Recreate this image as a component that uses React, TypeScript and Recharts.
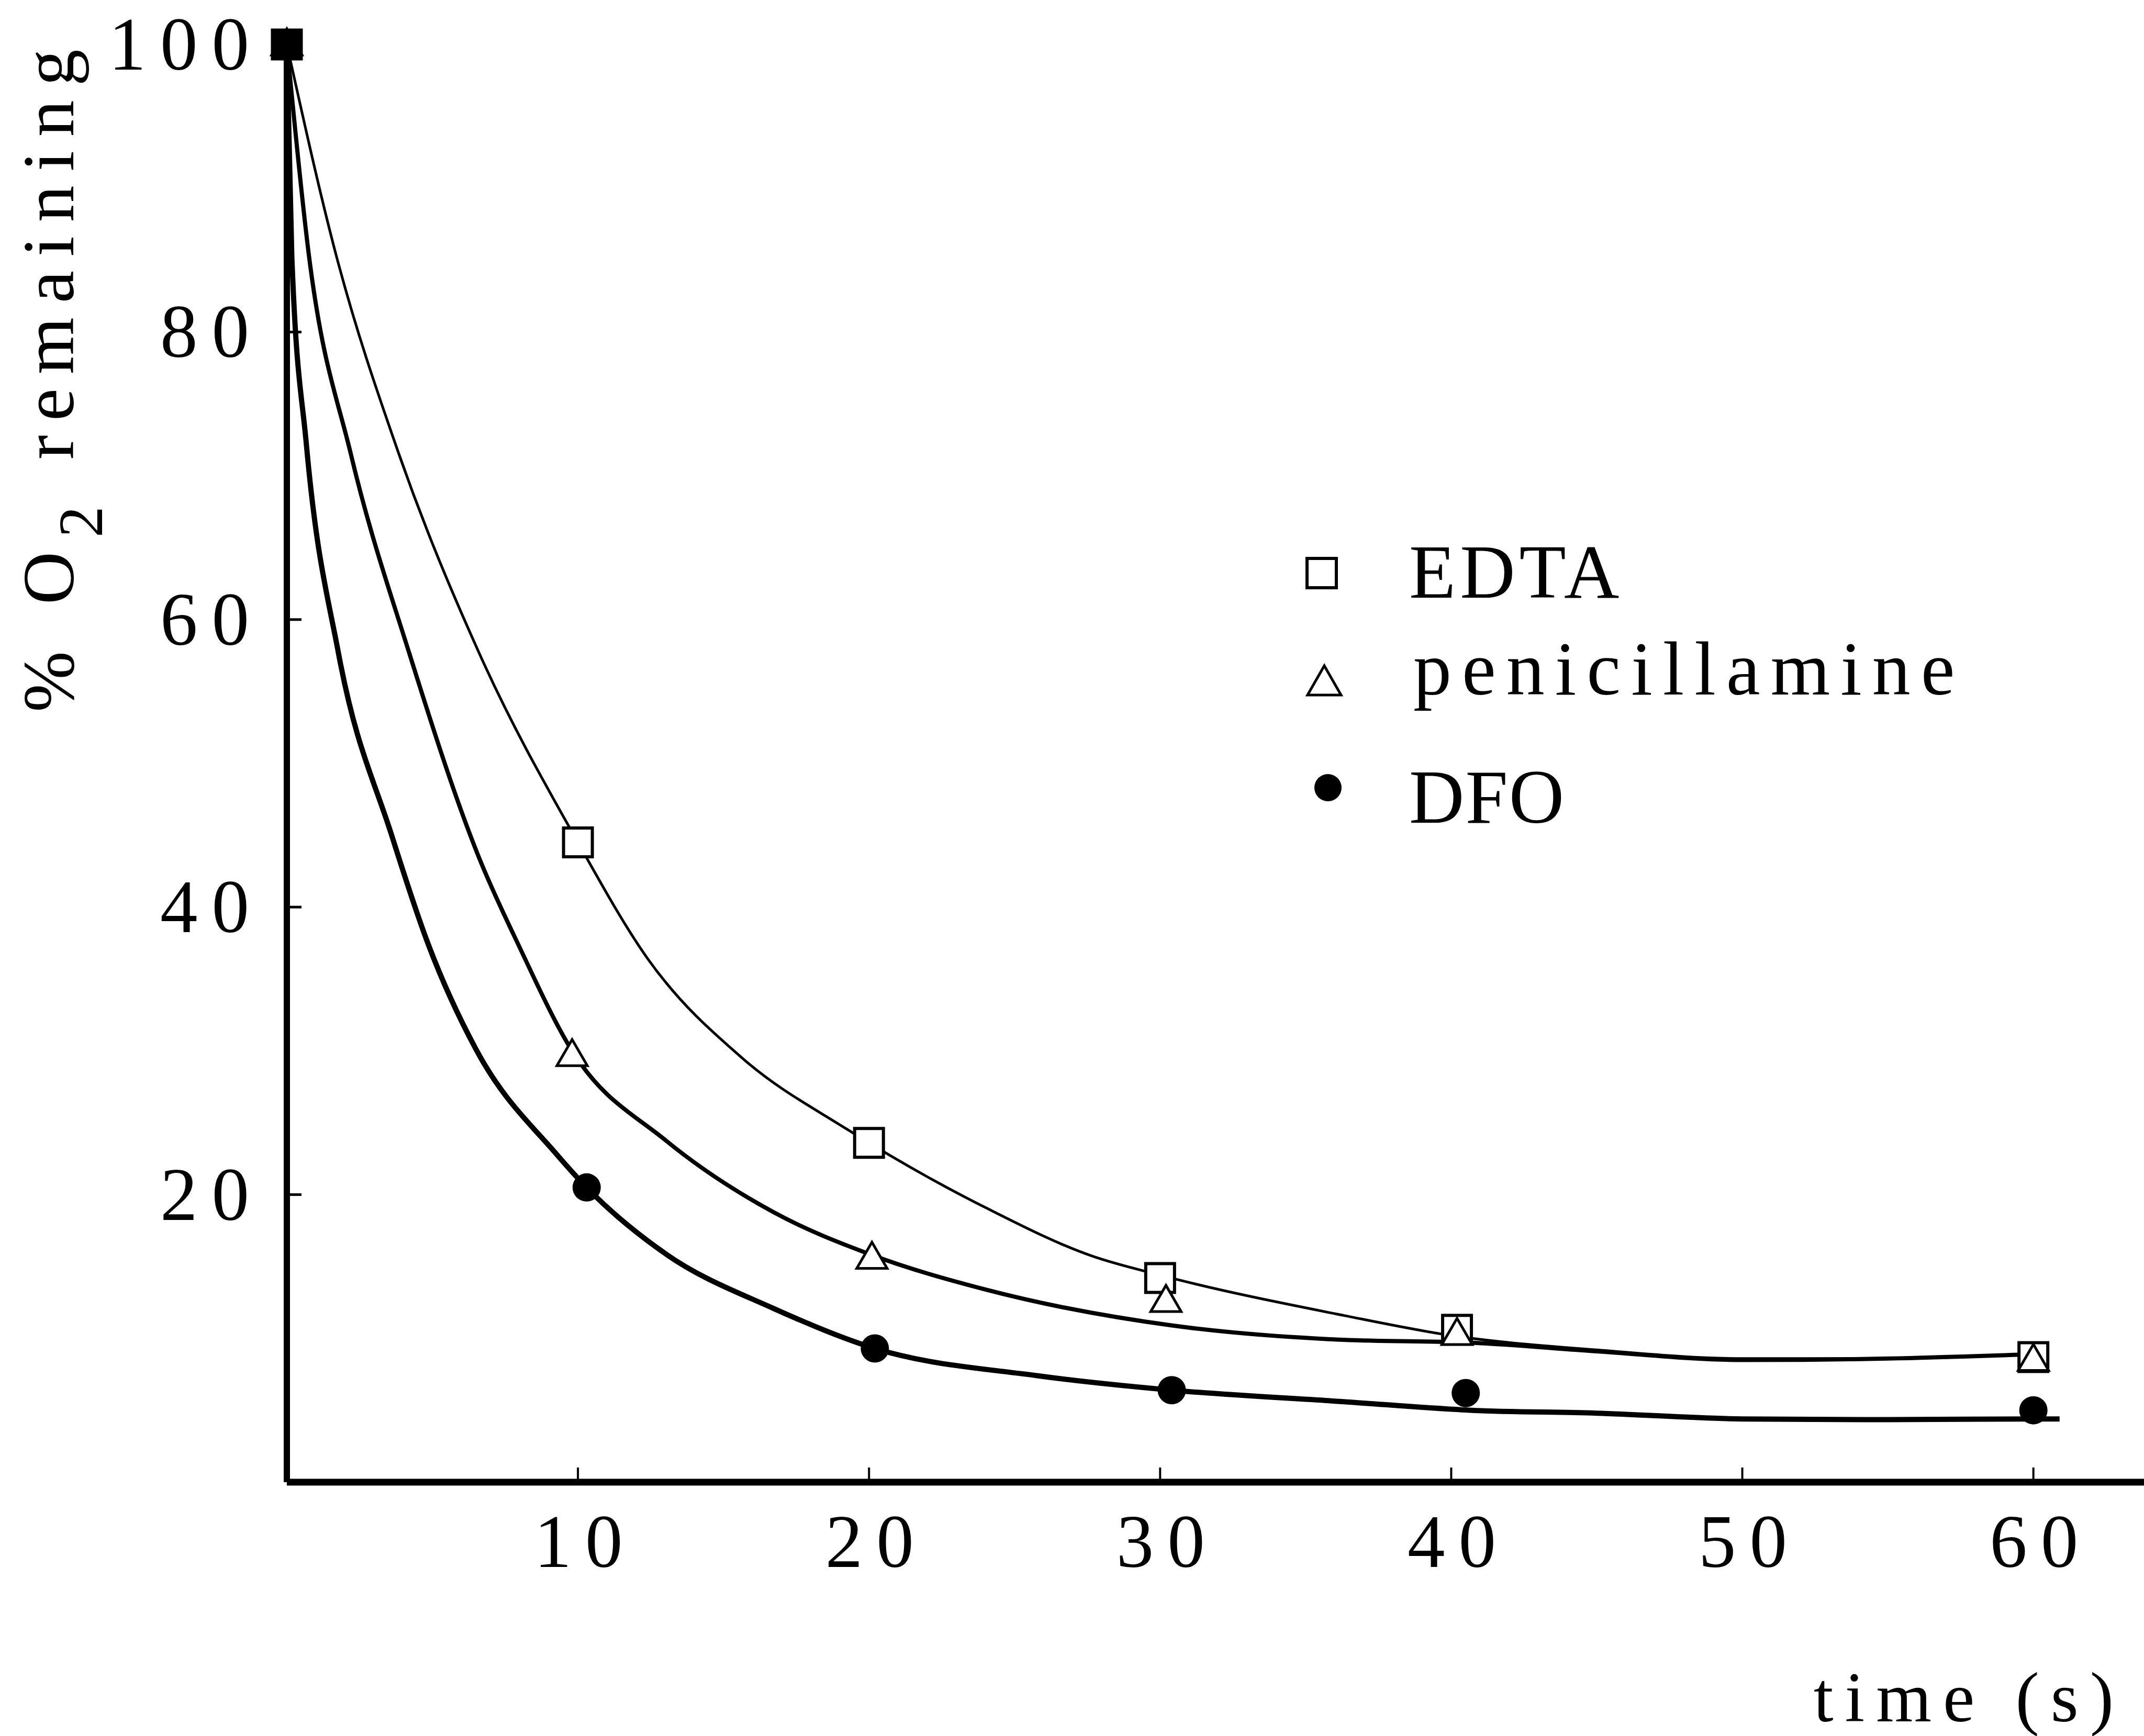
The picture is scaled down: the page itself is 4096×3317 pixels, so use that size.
import React from "react";
import { ComposedChart, Line, Scatter, XAxis, YAxis } from "recharts";

const W = 4096;
const H = 3317;
const FONT = "'Liberation Serif', 'Times New Roman', serif";

const xTicks = [10, 20, 30, 40, 50, 60];
const yTicks = [20, 40, 60, 80, 100];

// measured points: time (s) and % O2 remaining
const edtaTime = [0, 10, 20, 30, 40.2, 60];
const edtaO2 = [100, 44.5, 23.6, 14.2, 10.6, 8.7];
const penTime = [0, 9.8, 20.1, 30.2, 40.2, 60];
const penO2 = [100, 29.7, 15.6, 12.6, 10.3, 8.5];
const dfoTime = [0, 10.3, 20.2, 30.4, 40.5, 60];
const dfoO2 = [100, 20.5, 9.3, 6.4, 6.2, 5.0];

// the hand drawn fitted curves
const edtaFitTime = [0, 1.7, 3.8, 6.6, 10, 12.4, 15.7, 19.2, 24, 27.7, 30, 36.3, 40, 45, 50, 55, 60];
const edtaFitO2 = [100, 85.3, 71.8, 57.7, 44.5, 36.4, 29.4, 24.6, 19.1, 15.7, 14.4, 11.6, 10.2, 9.2, 8.6, 8.6, 8.9];
const penFitTime = [0, 0.76, 2.2, 4.2, 6.65, 7.95, 9.8, 13, 16.7, 20.1, 24, 30.4, 36.3, 40.7, 45, 50, 55, 60];
const penFitO2 = [100, 85.3, 71.5, 57.7, 43.2, 37.4, 30, 23.8, 18.8, 15.8, 13.4, 10.9, 9.9, 9.7, 9.1, 8.5, 8.6, 8.9];
const dfoFitTime = [0, 0.17, 0.67, 1.77, 3.6, 4.86, 6.5, 9.27, 10.3, 13, 16.7, 20.2, 25.8, 30.4, 36.3, 40.7, 45, 50, 55, 60, 60.9];
const dfoFitO2 = [100, 85.3, 72.2, 57.7, 45, 37.4, 30.1, 22.8, 20.5, 15.9, 12.1, 9.3, 7.4, 6.4, 5.6, 5.0, 4.8, 4.4, 4.35, 4.4, 4.4];

const pts = (t: number[], v: number[]) => t.map((x, i) => ({ t: x, v: v[i] }));

const SquareMark = (p: any) => {
  const s = 55;
  const fill = p.payload && p.payload.t === 0 ? "#000" : "#fff";
  return <rect x={p.cx - s / 2} y={p.cy - s / 2} width={s} height={s} fill={fill} stroke="#000" strokeWidth={6} />;
};

const TriangleMark = (p: any) => {
  const w = 58;
  const h = 50;
  const { cx, cy } = p;
  const fill = p.payload && p.payload.t === 0 ? "#000" : "#fff";
  return (
    <path
      d={`M${cx},${cy - h * 0.6} L${cx + w / 2},${cy + h * 0.4} L${cx - w / 2},${cy + h * 0.4} Z`}
      fill={fill}
      stroke="#000"
      strokeWidth={5}
    />
  );
};

const DotMark = (p: any) => <circle cx={p.cx} cy={p.cy} r={27} fill="#000" />;

const YTick = (p: any) => {
  const { x, y, payload } = p;
  return (
    <g>
      <line x1={x} x2={x + 28} y1={y} y2={y} stroke="#000" strokeWidth={5} />
      <text x={x - 45} y={y + 48} textAnchor="end" fontFamily={FONT} fontSize={143} letterSpacing={27} fill="#000">
        {payload.value}
      </text>
    </g>
  );
};

const XTick = (p: any) => {
  const { x, y, payload } = p;
  return (
    <g>
      <line x1={x} x2={x} y1={y} y2={y - 28} stroke="#000" strokeWidth={4} />
      <text x={x + 14} y={y + 162} textAnchor="middle" fontFamily={FONT} fontSize={143} letterSpacing={26} fill="#000">
        {payload.value}
      </text>
    </g>
  );
};

export default function App() {
  return (
    <div style={{ position: "absolute", left: 0, top: 0, width: W, height: H, background: "#fff" }}>
      <ComposedChart width={W} height={H} margin={{ top: 85, right: 0, bottom: 0, left: 0 }}>
        <XAxis
          type="number"
          dataKey="t"
          domain={[0, 63.8]}
          ticks={xTicks}
          interval={0}
          height={485}
          tickSize={0}
          tickMargin={0}
          tickLine={false}
          axisLine={{ stroke: "#000", strokeWidth: 13 }}
          tick={<XTick />}
        />
        <YAxis
          type="number"
          dataKey="v"
          domain={[0, 100]}
          ticks={yTicks}
          interval={0}
          width={548}
          tickSize={0}
          tickMargin={0}
          tickLine={false}
          axisLine={{ stroke: "#000", strokeWidth: 12 }}
          tick={<YTick />}
        />
        <Line data={pts(edtaFitTime, edtaFitO2)} dataKey="v" type="monotone" stroke="#000" strokeWidth={5} dot={false} activeDot={false} isAnimationActive={false} />
        <Line data={pts(penFitTime, penFitO2)} dataKey="v" type="monotone" stroke="#000" strokeWidth={8} dot={false} activeDot={false} isAnimationActive={false} />
        <Line data={pts(dfoFitTime, dfoFitO2)} dataKey="v" type="monotone" stroke="#000" strokeWidth={10} dot={false} activeDot={false} isAnimationActive={false} />
        <Scatter data={pts(edtaTime, edtaO2)} dataKey="v" shape={SquareMark} isAnimationActive={false} />
        <Scatter data={pts(penTime, penO2)} dataKey="v" shape={TriangleMark} isAnimationActive={false} />
        <Scatter data={pts(dfoTime, dfoO2)} dataKey="v" shape={DotMark} isAnimationActive={false} />
      </ComposedChart>
      <svg width={W} height={H} style={{ position: "absolute", left: 0, top: 0, pointerEvents: "none" }}>
        <text
          x={140}
          y={714}
          transform="rotate(-90 140 714)"
          textAnchor="middle"
          fontFamily={FONT}
          fontSize={140}
          letterSpacing={27}
          fill="#000"
        >
          <tspan>% O</tspan>
          <tspan dy={55} fontSize={120}>2</tspan>
          <tspan dy={-55}> remaining</tspan>
        </text>
        <text x={4060} y={3289} textAnchor="end" fontFamily={FONT} fontSize={136} letterSpacing={22} fill="#000">
          time (s)
        </text>
        <rect x={2497} y={1067} width={56} height={56} fill="#fff" stroke="#000" strokeWidth={6} />
        <text x={2692} y={1142} fontFamily={FONT} fontSize={146} letterSpacing={8} fill="#000">EDTA</text>
        <path d="M2530,1272 L2562,1328 L2498,1328 Z" fill="#fff" stroke="#000" strokeWidth={5} />
        <text x={2700} y={1327} fontFamily={FONT} fontSize={146} letterSpacing={20} fill="#000">penicillamine</text>
        <circle cx={2537} cy={1505} r={26} fill="#000" />
        <text x={2692} y={1572} fontFamily={FONT} fontSize={146} letterSpacing={2} fill="#000">DFO</text>
      </svg>
    </div>
  );
}
